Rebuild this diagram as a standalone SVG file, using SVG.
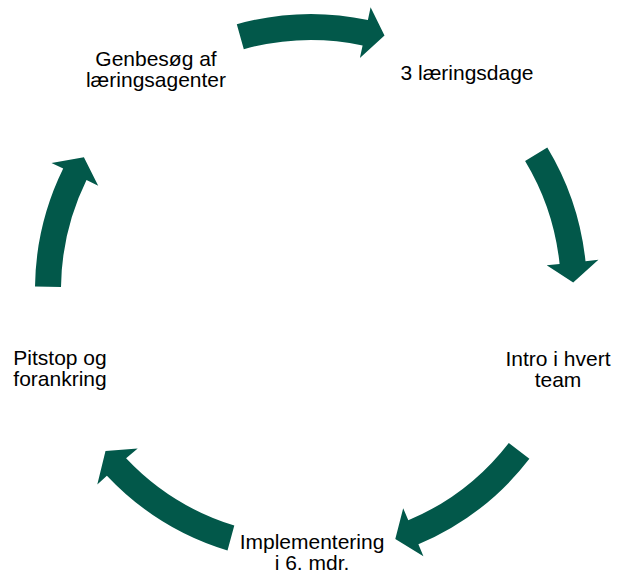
<svg xmlns="http://www.w3.org/2000/svg" width="622" height="573" viewBox="0 0 622 573">
<style>
.arrow{fill:#02584A;stroke:none}
.lbl{font-family:"Liberation Sans",Arial,sans-serif;font-size:21px;fill:#000;text-anchor:middle}
</style>
<rect width="622" height="573" fill="#fff"/>
<g id="connectors">
<path class="arrow" d="M236.8,24.2 A276,276 0 0 1 367.9,19.9 L370.6,7.2 L384.5,35.5 L359.9,58.1 L362.6,45.4 A250,250 0 0 0 243.8,49.2 Z"/>
<path class="arrow" d="M547.3,147.4 A276,276 0 0 1 585.5,261.2 L598.4,259.8 L573.2,282.5 L546.7,265.2 L559.6,263.9 A250,250 0 0 0 525.1,160.9 Z"/>
<path class="arrow" d="M529.4,458.8 A276,276 0 0 1 418.4,544.3 L423.4,556.2 L395.3,539.1 L403.2,508.3 L408.3,520.3 A250,250 0 0 0 508.8,442.9 Z"/>
<path class="arrow" d="M227.5,550.5 A276,276 0 0 1 106.9,475.7 L97.3,484.5 L105.5,451.0 L137.7,448.5 L126.1,458.3 A250,250 0 0 0 234.3,525.6 Z"/>
<path class="arrow" d="M35.0,286.6 A276,276 0 0 1 63.2,168.6 L51.5,162.9 L83.9,157.3 L98.2,185.7 L86.5,180.0 A250,250 0 0 0 61.0,286.9 Z"/>
</g>
<g id="node-laeringsdage"><text class="lbl" x="467" y="80">3 læringsdage</text></g>
<g id="node-intro"><text class="lbl" x="558" y="366">Intro i hvert</text><text class="lbl" x="558" y="387">team</text></g>
<g id="node-implementering"><text class="lbl" x="312" y="549">Implementering</text><text class="lbl" x="312" y="570">i 6. mdr.</text></g>
<g id="node-pitstop"><text class="lbl" x="60" y="365">Pitstop og</text><text class="lbl" x="60" y="386">forankring</text></g>
<g id="node-genbesog"><text class="lbl" x="156" y="66">Genbesøg af</text><text class="lbl" x="156" y="87">læringsagenter</text></g>
</svg>
